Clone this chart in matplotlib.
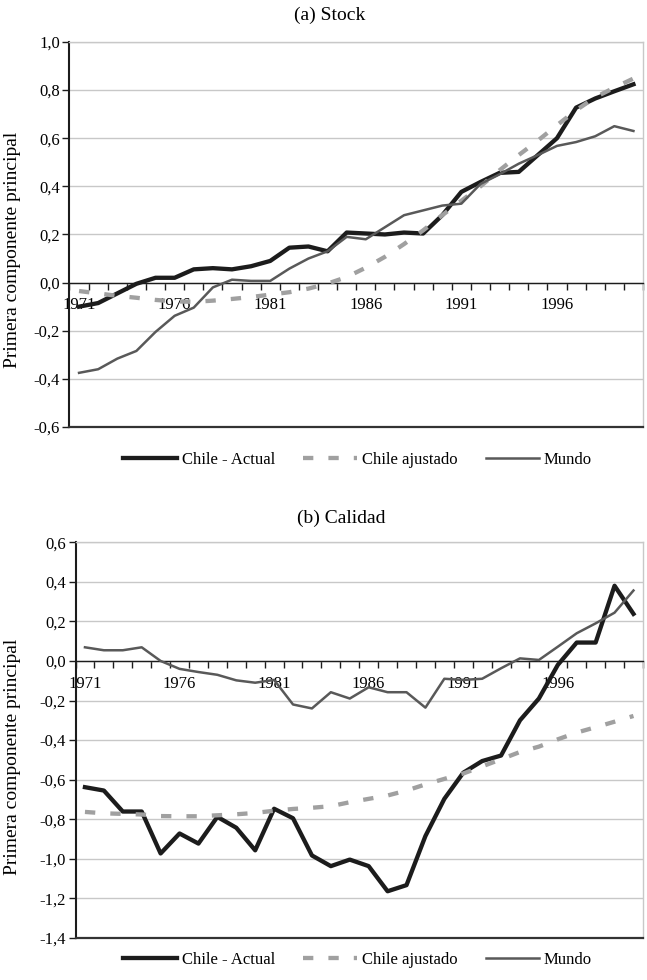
import matplotlib
matplotlib.use("Agg")
import matplotlib.pyplot as plt
from matplotlib.ticker import FuncFormatter

# Principal-component series, one value per year
years = list(range(1971, 2001))
year_labels = ["1971", "1976", "1981", "1986", "1991", "1996"]

stock_actual = [-0.100, -0.085, -0.045, -0.005, 0.020, 0.020, 0.055, 0.060, 0.055, 0.068,
                0.090, 0.145, 0.150, 0.130, 0.208, 0.204, 0.200, 0.208, 0.204, 0.280,
                0.377, 0.418, 0.456, 0.460, 0.530, 0.600, 0.727, 0.765, 0.795, 0.824]
stock_adjusted = [-0.035, -0.045, -0.055, -0.063, -0.072, -0.078, -0.080, -0.075, -0.068, -0.060,
                  -0.050, -0.040, -0.025, -0.004, 0.023, 0.062, 0.107, 0.160, 0.217, 0.280,
                  0.340, 0.400, 0.467, 0.530, 0.590, 0.654, 0.716, 0.770, 0.810, 0.848]
stock_world = [-0.375, -0.360, -0.316, -0.284, -0.205, -0.138, -0.104, -0.020, 0.012, 0.007,
               0.007, 0.058, 0.100, 0.130, 0.190, 0.180, 0.230, 0.280, 0.300, 0.320,
               0.328, 0.410, 0.450, 0.494, 0.530, 0.568, 0.584, 0.608, 0.650, 0.630]

quality_actual = [-0.638, -0.655, -0.761, -0.761, -0.973, -0.872, -0.923, -0.788, -0.843, -0.957,
                  -0.747, -0.795, -0.983, -1.037, -1.004, -1.037, -1.164, -1.133, -0.885, -0.697,
                  -0.565, -0.506, -0.478, -0.300, -0.190, -0.020, 0.093, 0.093, 0.380, 0.238]
quality_adjusted = [-0.763, -0.770, -0.773, -0.776, -0.784, -0.785, -0.785, -0.780, -0.775, -0.768,
                    -0.757, -0.748, -0.742, -0.734, -0.714, -0.697, -0.680, -0.655, -0.624, -0.596,
                    -0.569, -0.533, -0.497, -0.460, -0.433, -0.396, -0.362, -0.335, -0.307, -0.278]
quality_world = [0.069, 0.054, 0.054, 0.069, 0.000, -0.040, -0.056, -0.070, -0.098, -0.110,
                 -0.096, -0.220, -0.240, -0.158, -0.190, -0.133, -0.158, -0.158, -0.236, -0.090,
                 -0.096, -0.090, -0.037, 0.013, 0.005, 0.072, 0.140, 0.190, 0.244, 0.356]

plt.rcParams["font.family"] = ["Liberation Serif", "DejaVu Serif"]

BLACK = "#1c1c1c"
ADJ_GRAY = "#a0a0a0"
WORLD_GRAY = "#595959"
GRID = "#c8c8c8"


def comma_fmt(v, pos):
    v = round(v, 1) + 0.0
    return f"{v:.1f}".replace(".", ",")


def draw_panel(ax, actual, adjusted, world, ylim, yticks):
    x = list(range(len(years)))
    ax.plot(x, actual, color=BLACK, lw=3.1, label="Chile - Actual", zorder=3)
    ax.plot(x, adjusted, color=ADJ_GRAY, lw=3.1, dashes=(2.4, 3.5),
            label="Chile ajustado", zorder=3)
    ax.plot(x, world, color=WORLD_GRAY, lw=1.8, label="Mundo", zorder=3)

    ax.set_xlim(-0.5, len(years) - 0.5)
    ax.set_ylim(*ylim)

    # category axis crosses at zero, tick marks between categories
    ax.spines["bottom"].set_position(("data", 0))
    ax.spines["bottom"].set_color(BLACK)
    ax.spines["bottom"].set_linewidth(1.0)
    ax.set_xticks([i - 0.5 for i in range(len(years) + 1)])
    ax.set_xticks([years.index(int(y)) for y in year_labels], minor=True)
    ax.set_xticklabels(year_labels, minor=True)
    ax.tick_params(axis="x", which="major", length=5, width=1, direction="out",
                   color=BLACK, labelbottom=False)
    ax.tick_params(axis="x", which="minor", length=0, pad=10.5, labelsize=12)

    ax.set_yticks(yticks)
    ax.yaxis.set_major_formatter(FuncFormatter(comma_fmt))
    ax.tick_params(axis="y", length=5, width=1, direction="out", pad=2,
                   labelsize=12, color=BLACK)
    ax.yaxis.grid(True, color=GRID, lw=1.0)
    ax.set_axisbelow(True)

    ax.spines["left"].set_color(BLACK)
    ax.spines["left"].set_linewidth(1.5)
    for side in ("top", "right"):
        ax.spines[side].set_color(GRID)
        ax.spines[side].set_linewidth(1.0)
    ax.axhline(ylim[0], color="#333333", lw=1.6, clip_on=False, zorder=2.6)


fig = plt.figure(figsize=(6.47, 9.8))

ax_top = fig.add_axes([0.1074, 0.5643, 0.8864, 0.3929])
draw_panel(ax_top, stock_actual, stock_adjusted, stock_world,
           (-0.6, 1.0), [-0.6, -0.4, -0.2, 0.0, 0.2, 0.4, 0.6, 0.8, 1.0])

ax_bot = fig.add_axes([0.1167, 0.0429, 0.8770, 0.4038])
draw_panel(ax_bot, quality_actual, quality_adjusted, quality_world,
           (-1.4, 0.6), [-1.4, -1.2, -1.0, -0.8, -0.6, -0.4, -0.2, 0.0, 0.2, 0.4, 0.6])

fig.text(0.510, 0.9847, "(a) Stock", ha="center", va="center", fontsize=14)
fig.text(0.527, 0.4714, "(b) Calidad", ha="center", va="center", fontsize=14)

for yc in (0.745, 0.2276):
    fig.text(0.020, yc, "Primera componente principal", rotation=90,
             ha="center", va="center", fontsize=14)

legend_kw = dict(loc="center", bbox_transform=fig.transFigure, ncol=3, frameon=False,
                 fontsize=12, handlelength=3.2, handletextpad=0.3, columnspacing=1.7)
ax_top.legend(bbox_to_anchor=(0.553, 0.5306), **legend_kw)
ax_bot.legend(bbox_to_anchor=(0.553, 0.0204), **legend_kw)

fig.savefig("out.png", dpi=100)
